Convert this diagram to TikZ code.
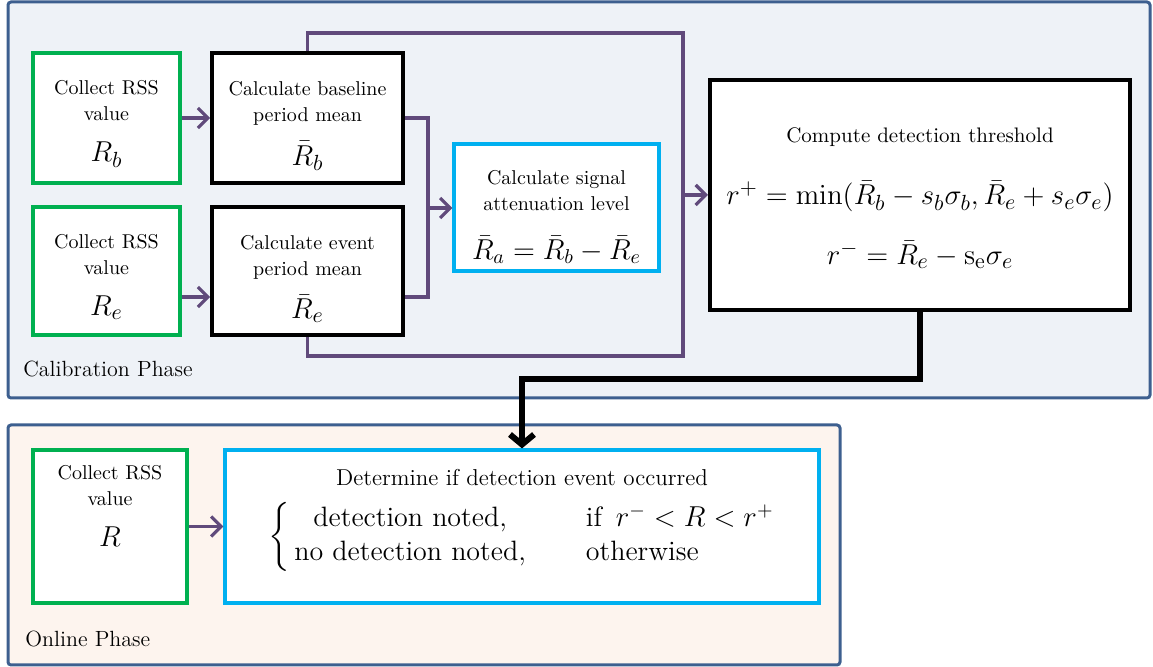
\documentclass[tikz,border=0pt]{standalone}
\usepackage{amsmath}
\usepackage{xcolor}
\usepackage{tikz}
\usetikzlibrary{arrows.meta,calc,positioning}
\definecolor{phaseblue}{RGB}{61,95,143}
\definecolor{calfill}{RGB}{238,242,247}
\definecolor{onfill}{RGB}{253,244,238}
\definecolor{boxgreen}{RGB}{0,176,80}
\definecolor{boxcyan}{RGB}{0,176,240}
\definecolor{linkpurple}{RGB}{96,74,123}

\begin{document}
\begin{tikzpicture}[x=.5pt,y=-.5pt,font=\fontsize{10}{13}\selectfont]
\tikzset{phase/.style={draw=phaseblue,line width=1.5pt,rounded corners=1.5pt},
grnbox/.style={draw=boxgreen,fill=white,line width=1.6pt,align=center,inner sep=0pt},
blkbox/.style={draw=black,fill=white,line width=1.8pt,align=center,inner sep=0pt},
cynbox/.style={draw=boxcyan,fill=white,line width=1.6pt,align=center,inner sep=0pt},
link/.style={draw=linkpurple,line width=1.6pt},
linkarr/.style={link,-{Straight Barb[length=5pt,width=10pt]}},
outarr/.style={line width=3pt,-{Straight Barb[length=5pt,width=12pt]}},
phasename/.style={anchor=base west,inner sep=0pt,font=\fontsize{11}{13}\selectfont}}
\useasboundingbox (0,0) rectangle (1153,667);
% phases
\draw[phase,fill=calfill] (8,2) rectangle (1150,398);
\draw[phase,fill=onfill] (8,425) rectangle (840,665);
\node[phasename] (calname) at (23,377) {Calibration Phase};
\node[phasename] (onname) at (25,647) {Online Phase};
% calibration boxes
\node[grnbox,minimum width=73.5pt,minimum height=65pt] (colb) at (106.5,118)
 {\rule{0pt}{13pt}Collect RSS\\value\\[7.5pt]{\fontsize{15}{13}\selectfont$R_b$}};
\node[grnbox,minimum width=73.5pt,minimum height=64pt] (cole) at (106.5,271)
 {\rule{0pt}{13pt}Collect RSS\\value\\[7.5pt]{\fontsize{15}{13}\selectfont$R_e$}};
\node[blkbox,minimum width=95.5pt,minimum height=65pt] (basel) at (307.5,118)
 {\rule{0pt}{15pt}Calculate baseline\\period mean\\[7pt]{\fontsize{15}{13}\selectfont$\bar{R}_b$}};
\node[blkbox,minimum width=95.5pt,minimum height=64pt] (evnt) at (307.5,271)
 {\rule{0pt}{15pt}Calculate event\\period mean\\[7pt]{\fontsize{15}{13}\selectfont$\bar{R}_e$}};
\node[cynbox,minimum width=102.5pt,minimum height=63.5pt] (atten) at (556.5,207.5)
 {\rule{0pt}{16.5pt}Calculate signal\\attenuation level\\[11.5pt]{\fontsize{14}{13}\selectfont$\bar{R}_a=\bar{R}_b-\bar{R}_e$}};
\node[blkbox,line width=2pt,minimum width=210pt,minimum height=115pt] (thr) at (920,195)
 {{\fontsize{10.5}{13}\selectfont\rule{0pt}{10.5pt}Compute detection threshold}\\[16.5pt]
  {\fontsize{15}{13}\selectfont$r^+=\min(\bar{R}_b-s_b\sigma_b,\bar{R}_e+s_e\sigma_e)$}\\[13.5pt]
  {\fontsize{15}{13}\selectfont$r^-=\bar{R}_e-\mathrm{s_e}\sigma_e$}};
% online boxes
\node[grnbox,minimum width=77pt,minimum height=76.5pt] (colr) at (110,526.5)
 {Collect RSS\\value\\[7.5pt]{\fontsize{15}{13}\selectfont$R$\rule[-21pt]{0pt}{0pt}}};
\node[cynbox,minimum width=297pt,minimum height=76.5pt] (det) at (522,526.5)
 {{\fontsize{11.5}{13}\selectfont\rule{0pt}{11pt}Determine if detection event occurred}\\[7.5pt]
  {\fontsize{14}{17}\selectfont$\left\{\begin{array}{@{\,}c@{\hspace{30pt}}l@{}}
  \text{detection noted,} & \text{if}\enspace r^-<R<r^+\\
  \text{no detection noted,} & \text{otherwise}
  \end{array}\right.$}\\[8pt]};
% calibration links
\draw[linkarr] (colb) -- (basel);
\draw[linkarr] ([yshift=-13pt]cole.east) -- ([yshift=-13pt]evnt.west);
\coordinate (mj) at (428,208);
\draw[link] (basel.east) -| (mj) |- ([yshift=-13pt]evnt.east);
\draw[linkarr] (mj) -- (mj -| atten.west);
\coordinate (lt) at (683,33);
\coordinate (lb) at (683,356);
\draw[link] (basel.north) |- (lt) -- (lb) -| (evnt.south);
\draw[linkarr] (lt |- thr.west) -- (thr.west);
% threshold into online phase
\coordinate (dn) at (521,379);
\draw[outarr] (thr.south) |- (det.north |- dn) -- (det.north);
\draw[linkarr] (colr) -- (det);
\end{tikzpicture}
\end{document}
